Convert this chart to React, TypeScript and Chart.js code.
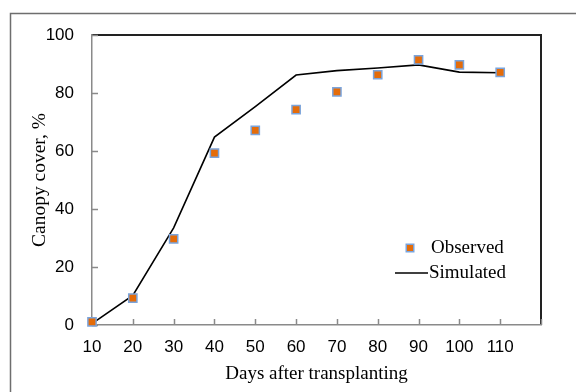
import React, { useEffect, useRef } from "react";
import { Chart, registerables } from "chart.js";

Chart.register(...registerables);

const days = [10, 20, 30, 40, 50, 60, 70, 80, 90, 100, 110];
const observed = [1.1, 9.3, 29.7, 59.3, 67.1, 74.3, 80.4, 86.3, 91.4, 89.7, 87.1];
const simulated = [0.5, 10.2, 33.5, 64.8, 75.3, 86.2, 87.7, 88.6, 89.7, 87.2, 87.0];
const yTicks = [0, 20, 40, 60, 80, 100];
const xTicks = [10, 20, 30, 40, 50, 60, 70, 80, 90, 100, 110, 120];
const xLabelMax = 110;
const seriesNames = ["Observed", "Simulated"];
const xTitle = "Days after transplanting";
const yTitle = "Canopy cover, %";

const ORANGE = "#E46C0A";
const BLUE = "#7BA4DB";
const AXIS = "#8a8a8a";
const SERIF = "'Liberation Serif', 'Times New Roman', serif";
const SANS = "'Liberation Sans', Arial, sans-serif";

const framePlugin = {
  id: "frame",
  beforeDraw(chart: any) {
    const { ctx, chartArea: a, width, height } = chart;
    ctx.save();
    ctx.strokeStyle = "#6e6e6e";
    ctx.lineWidth = 1.5;
    ctx.beginPath();
    ctx.moveTo(10.5, height);
    ctx.lineTo(10.5, 13.5);
    ctx.lineTo(width, 13.5);
    ctx.stroke();
    ctx.strokeStyle = "#222";
    ctx.lineWidth = 2;
    ctx.beginPath();
    ctx.moveTo(a.left, a.top);
    ctx.lineTo(a.right, a.top);
    ctx.lineTo(a.right, a.bottom);
    ctx.stroke();
    ctx.restore();
  },
  beforeDatasetsDraw(chart: any) {
    const { ctx, chartArea: a, scales } = chart;
    ctx.save();
    ctx.strokeStyle = AXIS;
    ctx.lineWidth = 1.5;
    ctx.beginPath();
    for (const v of xTicks) {
      const x = Math.round(scales.x.getPixelForValue(v)) + 0.5;
      ctx.moveTo(x, a.bottom);
      ctx.lineTo(x, a.bottom - 6);
    }
    for (const v of yTicks) {
      const y = Math.round(scales.y.getPixelForValue(v)) + 0.5;
      ctx.moveTo(a.left, y);
      ctx.lineTo(a.left + 6, y);
    }
    ctx.stroke();
    ctx.restore();
  },
  afterDraw(chart: any) {
    const { ctx, chartArea: a } = chart;
    const lx = a.right - 141;
    const y1 = a.top + 213;
    const y2 = a.top + 238;
    ctx.save();
    const s = 7.5;
    const mx = lx + 10;
    ctx.fillStyle = ORANGE;
    ctx.strokeStyle = BLUE;
    ctx.lineWidth = 1.5;
    ctx.beginPath();
    ctx.rect(mx - s / 2, y1 - s / 2, s, s);
    ctx.fill();
    ctx.stroke();
    ctx.strokeStyle = "#000";
    ctx.lineWidth = 1.5;
    ctx.beginPath();
    ctx.moveTo(lx - 5, y2);
    ctx.lineTo(lx + 28, y2);
    ctx.stroke();
    ctx.fillStyle = "#000";
    ctx.font = `19px ${SERIF}`;
    ctx.textBaseline = "middle";
    ctx.textAlign = "left";
    ctx.fillText(seriesNames[0], lx + 31, y1);
    ctx.fillText(seriesNames[1], lx + 29, y2);
    ctx.restore();
  },
};

export default function App() {
  const ref = useRef<HTMLCanvasElement>(null);
  useEffect(() => {
    if (!ref.current) return;
    const chart = new Chart(ref.current, {
      type: "scatter",
      data: {
        datasets: [
          {
            label: seriesNames[0],
            data: days.map((d, i) => ({ x: d, y: observed[i] })),
            showLine: false,
            pointStyle: "rect",
            pointRadius: 5.8,
            pointBackgroundColor: ORANGE,
            pointBorderColor: BLUE,
            pointBorderWidth: 1.5,
            clip: false,
          },
          {
            label: seriesNames[1],
            data: days.map((d, i) => ({ x: d, y: simulated[i] })),
            showLine: true,
            borderColor: "#000",
            borderWidth: 1.6,
            pointRadius: 0,
            tension: 0,
            clip: false,
          },
        ],
      },
      options: {
        animation: false,
        responsive: true,
        maintainAspectRatio: false,
        events: [],
        layout: { padding: { left: 0, right: 35, top: 35, bottom: 0 } },
        plugins: { legend: { display: false }, tooltip: { enabled: false } },
        scales: {
          x: {
            type: "linear",
            min: 10,
            max: 120,
            afterFit: (s: any) => {
              s.height = 67;
            },
            afterBuildTicks: (s: any) => {
              s.ticks = xTicks.map((v) => ({ value: v }));
            },
            ticks: {
              padding: 12,
              color: "#000",
              font: { family: SANS, size: 17 },
              callback: (v: any) => (Number(v) <= xLabelMax ? String(v) : ""),
            },
            grid: { drawOnChartArea: false, drawTicks: false },
            border: { color: AXIS, width: 1.5 },
            title: {
              display: true,
              text: xTitle,
              color: "#000",
              font: { family: SERIF, size: 19 },
              padding: { top: 0, bottom: 7 },
            },
          },
          y: {
            min: 0,
            max: 100,
            afterFit: (s: any) => {
              s.width = 92;
            },
            afterBuildTicks: (s: any) => {
              s.ticks = yTicks.map((v) => ({ value: v }));
            },
            ticks: {
              padding: 18,
              color: "#000",
              font: { family: SANS, size: 17 },
            },
            grid: { drawOnChartArea: false, drawTicks: false },
            border: { color: AXIS, width: 1.5 },
            title: {
              display: true,
              text: yTitle,
              color: "#000",
              font: { family: SERIF, size: 19.5 },
              padding: { top: 28, bottom: 0 },
            },
          },
        },
      },
      plugins: [framePlugin],
    });
    return () => chart.destroy();
  }, []);
  return (
    <div style={{ position: "absolute", left: 0, top: 0, width: 576, height: 392, background: "#fff" }}>
      <canvas ref={ref} />
    </div>
  );
}
